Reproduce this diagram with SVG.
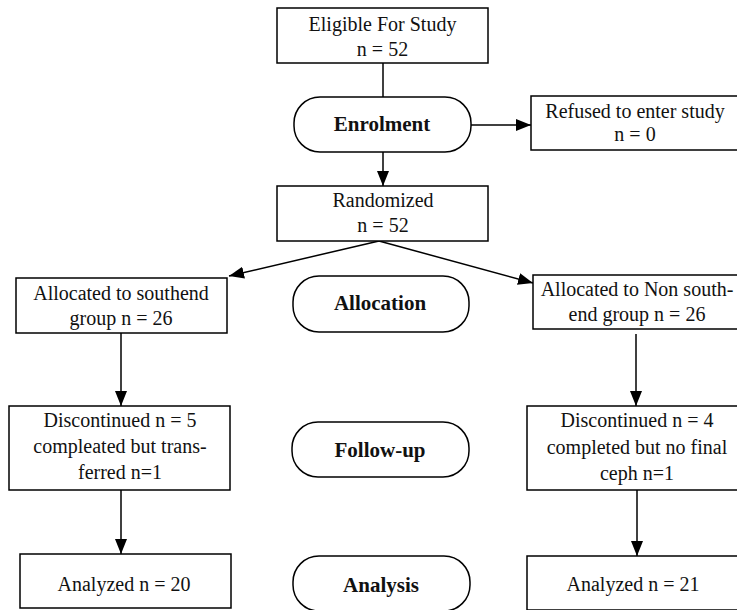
<svg xmlns="http://www.w3.org/2000/svg" width="737" height="610" viewBox="0 0 737 610">
<style>
  .box { fill: #fff; stroke: #000; stroke-width: 1.5; }
  .pill { fill: #fff; stroke: #000; stroke-width: 1.5; }
  .t { font-family: "Liberation Serif", "Times New Roman", serif; font-size: 20px; fill: #111; text-anchor: middle; }
  .b { font-family: "Liberation Serif", "Times New Roman", serif; font-size: 21px; font-weight: bold; fill: #111; text-anchor: middle; }
  .c { fill: none; stroke: #000; stroke-width: 1.5; }
</style>
<defs>
  <marker id="arr" markerUnits="userSpaceOnUse" markerWidth="16" markerHeight="12" refX="15" refY="6" orient="auto">
    <path d="M0,0 L15,6 L0,12 Z" fill="#000"/>
  </marker>
</defs>
<rect width="737" height="610" fill="#fff"/>

<g id="connectors">
  <line class="c" x1="383" y1="63" x2="383" y2="97"/>
  <line class="c" x1="471" y1="125" x2="531" y2="125" marker-end="url(#arr)"/>
  <line class="c" x1="383" y1="152" x2="383" y2="186" marker-end="url(#arr)"/>
  <line class="c" x1="379" y1="241" x2="229" y2="276" marker-end="url(#arr)"/>
  <line class="c" x1="379" y1="241" x2="533" y2="283" marker-end="url(#arr)"/>
  <line class="c" x1="121" y1="333" x2="121" y2="406" marker-end="url(#arr)"/>
  <line class="c" x1="636" y1="334" x2="636" y2="406" marker-end="url(#arr)"/>
  <line class="c" x1="121" y1="490" x2="121" y2="554" marker-end="url(#arr)"/>
  <line class="c" x1="637" y1="490" x2="637" y2="556" marker-end="url(#arr)"/>
</g>

<g id="eligible">
  <rect class="box" x="277" y="8" width="211" height="55"/>
  <text class="t" x="382.5" y="31">Eligible For Study</text>
  <text class="t" x="382.5" y="56">n = 52</text>
</g>
<g id="enrolment">
  <rect class="pill" x="294" y="97" width="177" height="55" rx="26" ry="26"/>
  <text class="b" x="382" y="131">Enrolment</text>
</g>
<g id="refused">
  <rect class="box" x="531" y="96" width="210" height="54"/>
  <text class="t" x="635" y="118">Refused to enter study</text>
  <text class="t" x="635" y="141">n = 0</text>
</g>
<g id="randomized">
  <rect class="box" x="277" y="186" width="211" height="55"/>
  <text class="t" x="383" y="207">Randomized</text>
  <text class="t" x="383" y="232">n = 52</text>
</g>
<g id="alloc-left">
  <rect class="box" x="16" y="278" width="211" height="55"/>
  <text class="t" x="121" y="300">Allocated to southend</text>
  <text class="t" x="121" y="325">group n = 26</text>
</g>
<g id="allocation">
  <rect class="pill" x="293" y="276" width="176" height="56" rx="26" ry="26"/>
  <text class="b" x="380" y="310">Allocation</text>
</g>
<g id="alloc-right">
  <rect class="box" x="533" y="275" width="210" height="54"/>
  <text class="t" x="637" y="296">Allocated to Non south-</text>
  <text class="t" x="637" y="321">end group n = 26</text>
</g>
<g id="disc-left">
  <rect class="box" x="9" y="406" width="221" height="84"/>
  <text class="t" x="120" y="427">Discontinued n = 5</text>
  <text class="t" x="120" y="453">compleated but trans-</text>
  <text class="t" x="120" y="479">ferred n=1</text>
</g>
<g id="followup">
  <rect class="pill" x="292" y="422" width="177" height="55" rx="26" ry="26"/>
  <text class="b" x="380" y="457">Follow-up</text>
</g>
<g id="disc-right">
  <rect class="box" x="527" y="406" width="220" height="84"/>
  <text class="t" x="637" y="427">Discontinued n = 4</text>
  <text class="t" x="637" y="454">completed but no final</text>
  <text class="t" x="637" y="480">ceph n=1</text>
</g>
<g id="analyzed-left">
  <rect class="box" x="20" y="554" width="211" height="54"/>
  <text class="t" x="124" y="591">Analyzed n = 20</text>
</g>
<g id="analysis">
  <rect class="pill" x="293" y="556" width="177" height="55" rx="26" ry="26"/>
  <text class="b" x="381" y="592">Analysis</text>
</g>
<g id="analyzed-right">
  <rect class="box" x="527" y="556" width="220" height="54"/>
  <text class="t" x="633" y="591">Analyzed n = 21</text>
</g>
</svg>
